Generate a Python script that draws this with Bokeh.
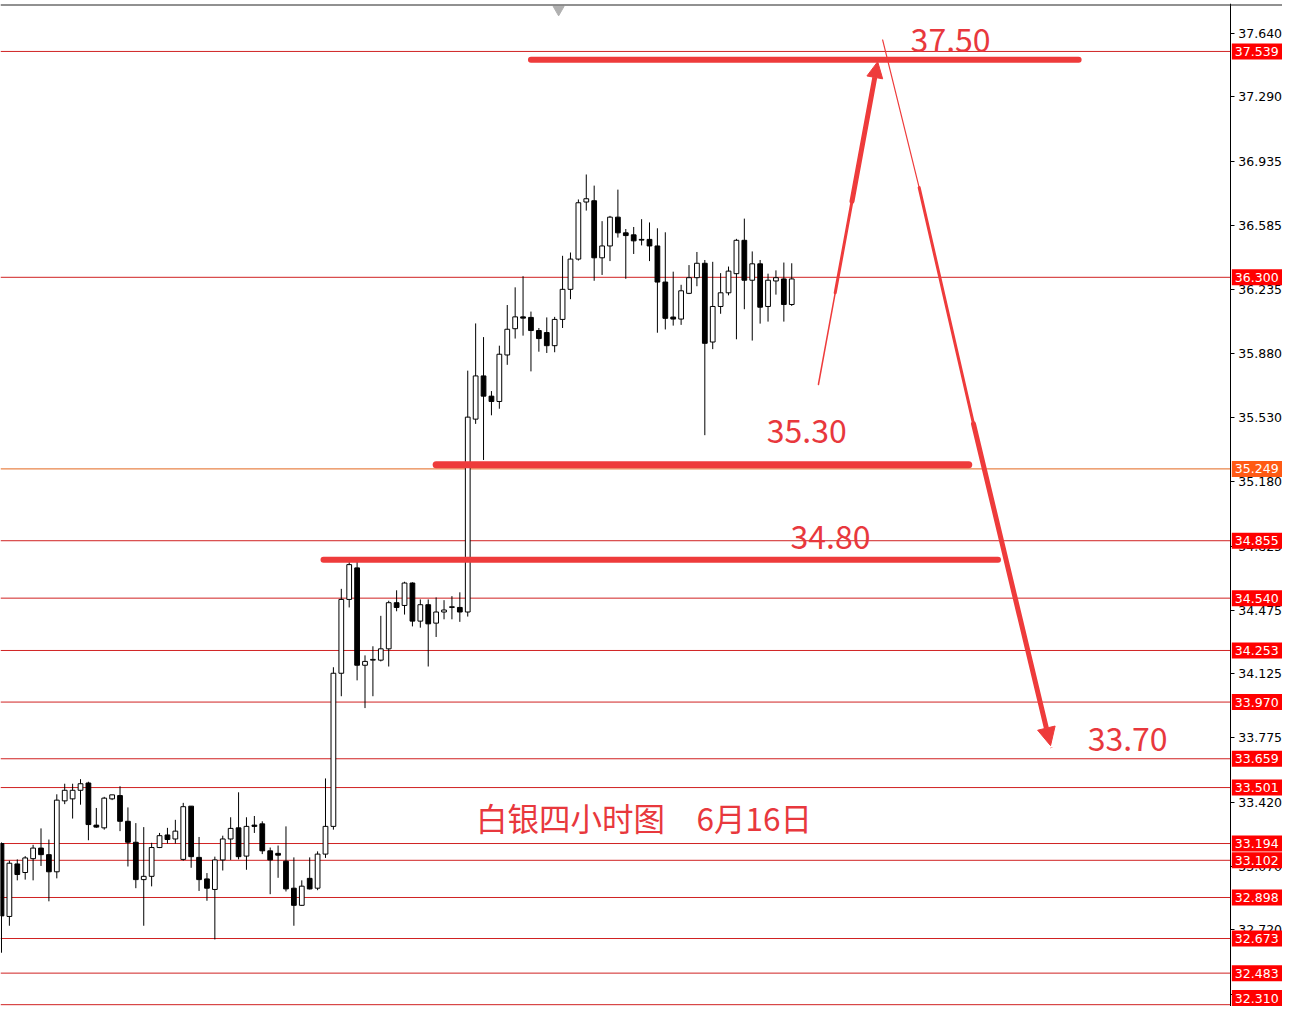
import numpy as np
from bokeh.plotting import figure
from bokeh.models import (FixedTicker, Span, Arrow, NormalHead, LinearAxis,
                          NumeralTickFormatter)
from bokeh.core.properties import value
from bokeh.embed import file_html
from bokeh.resources import INLINE

# ---------------- data ----------------
opens = [33.194, 32.794, 33.082, 33.035, 33.111, 33.169, 33.133, 33.039, 33.428, 33.439,
         33.486, 33.526, 33.295, 33.280, 33.439, 33.457, 33.316, 33.201, 32.996, 33.014,
         33.172, 33.241, 33.219, 33.107, 33.399, 33.118, 33.000, 32.942, 33.104, 33.219,
         33.280, 33.125, 33.295, 33.302, 33.154, 33.140, 33.097, 32.949, 32.855, 33.003,
         32.949, 33.136, 33.288, 34.128, 34.533, 34.706, 34.172, 34.200, 34.200, 34.262,
         34.515, 34.500, 34.623, 34.414, 34.504, 34.403, 34.464, 34.489, 34.489, 34.464,
         35.522, 35.759, 35.648, 35.619, 35.874, 36.018, 36.083, 36.080, 36.008, 35.997,
         35.925, 36.069, 36.234, 36.400, 36.713, 36.720, 36.407, 36.472, 36.630, 36.544,
         36.533, 36.508, 36.508, 36.472, 36.274, 36.082, 36.071, 36.212, 36.298, 36.377,
         35.945, 36.140, 36.215, 36.320, 36.503, 36.284, 36.374, 36.140, 36.280, 36.291,
         36.151]
highs = [33.200, 33.100, 33.107, 33.125, 33.187, 33.277, 33.216, 33.464, 33.522, 33.522,
         33.547, 33.533, 33.389, 33.450, 33.461, 33.508, 33.392, 33.306, 33.284, 33.198,
         33.252, 33.280, 33.324, 33.417, 33.399, 33.230, 33.032, 33.122, 33.237, 33.338,
         33.475, 33.338, 33.345, 33.316, 33.172, 33.183, 33.288, 33.118, 32.992, 33.118,
         33.151, 33.551, 34.161, 34.591, 34.760, 34.740, 34.226, 34.276, 34.443, 34.526,
         34.583, 34.630, 34.627, 34.533, 34.533, 34.544, 34.529, 34.551, 34.572, 35.788,
         36.047, 35.972, 35.676, 35.925, 36.148, 36.245, 36.306, 36.112, 36.022, 36.080,
         36.083, 36.418, 36.436, 36.727, 36.864, 36.803, 36.608, 36.637, 36.781, 36.565,
         36.576, 36.619, 36.601, 36.569, 36.547, 36.331, 36.259, 36.367, 36.439, 36.395,
         36.385, 36.323, 36.359, 36.511, 36.622, 36.442, 36.395, 36.320, 36.338, 36.381,
         36.377]
lows = [32.595, 32.743, 32.992, 32.996, 32.992, 33.071, 32.877, 33.003, 33.410, 33.331,
        33.407, 33.212, 33.280, 33.270, 33.432, 33.262, 33.068, 32.949, 32.743, 32.959,
        33.169, 33.194, 33.194, 33.100, 33.061, 32.934, 32.880, 32.668, 33.046, 33.104,
        33.107, 33.050, 33.252, 33.136, 32.916, 33.006, 32.931, 32.743, 32.852, 32.942,
        32.938, 33.115, 33.270, 34.002, 34.489, 34.089, 33.937, 34.002, 34.193, 34.165,
        34.468, 34.450, 34.385, 34.378, 34.165, 34.327, 34.424, 34.424, 34.410, 34.439,
        35.496, 35.298, 35.543, 35.579, 35.820, 35.964, 35.980, 35.784, 35.892, 35.885,
        35.889, 36.022, 36.180, 36.392, 36.666, 36.281, 36.313, 36.389, 36.518, 36.292,
        36.428, 36.475, 36.389, 35.996, 36.014, 36.035, 36.039, 36.208, 36.251, 35.434,
        35.906, 36.100, 36.201, 35.960, 36.125, 35.953, 36.046, 36.057, 36.205, 36.057,
        36.143]
closes = [32.797, 33.086, 33.024, 33.115, 33.169, 33.133, 33.039, 33.432, 33.486, 33.486,
          33.522, 33.298, 33.284, 33.443, 33.461, 33.316, 33.201, 32.996, 33.014, 33.172,
          33.237, 33.216, 33.262, 33.396, 33.122, 32.996, 32.949, 33.104, 33.219, 33.277,
          33.122, 33.288, 33.288, 33.154, 33.104, 33.130, 32.945, 32.855, 32.960, 32.945,
          33.136, 33.288, 34.128, 34.533, 34.724, 34.172, 34.193, 34.204, 34.262, 34.515,
          34.489, 34.623, 34.414, 34.504, 34.399, 34.464, 34.475, 34.493, 34.464, 35.533,
          35.759, 35.648, 35.619, 35.878, 36.015, 36.083, 36.076, 36.008, 35.964, 35.925,
          36.069, 36.234, 36.400, 36.709, 36.731, 36.407, 36.472, 36.630, 36.544, 36.529,
          36.500, 36.504, 36.472, 36.274, 36.075, 36.071, 36.226, 36.298, 36.377, 35.938,
          36.140, 36.215, 36.334, 36.503, 36.284, 36.374, 36.136, 36.284, 36.298, 36.151,
          36.291]

axis_ticks = [37.640, 37.290, 36.935, 36.585, 36.235, 35.880, 35.530, 35.180, 34.825,
              34.475, 34.125, 33.775, 33.420, 33.070, 32.720, 32.365]
level_values = [37.539, 36.300, 35.249, 34.855, 34.540, 34.253, 33.970, 33.659, 33.501,
                33.194, 33.102, 32.898, 32.673, 32.483, 32.310]
level_labels = ["37.539", "36.300", "35.249", "34.855", "34.540", "34.253", "33.970", "33.659",
                "33.501", "33.194", "33.102", "32.898", "32.673", "32.483", "32.310"]
orange_level = 35.249

# hand-drawn marks (data units: candle index, price)
mark_lines_y = [37.494, 35.272, 34.751]
mark_lines_x0 = [67.0, 55.0, 40.75]
mark_lines_x1 = [136.3, 122.4, 126.1]
mark_lines_w = [6, 7, 6]

up_x = [103.375, 105.5, 107.625, 110.875]
up_y = [35.712, 36.215, 36.717, 37.483]
down_x = [111.5, 116.125, 123.0, 132.75]
down_y = [37.602, 36.792, 35.496, 33.731]

note_texts = ["37.50", "35.30", "34.80", "33.70"]
note_x = [120.1, 101.9, 104.9, 142.5]
note_y = [37.602, 35.459, 34.875, 33.769]
title_text = "白银四小时图\u30006月16日"
title_x, title_y = 81.3, 33.337

RED = "#EE3B3B"
TXT = "#E8383D"
LINE_RED = "#D02222"

W, H = 1282, 1006
TOP = 3
X0, X1 = -0.125, 162.1          # frame spans the whole width, axis inside it
X_AXIS = 155.5
Y0, Y1 = 32.300, 37.802
ppu_x = W / (X1 - X0)
ppu_y = (H - TOP) / (Y1 - Y0)

# ---------------- figure ----------------
p = figure(width=W, height=H, output_backend="svg", toolbar_location=None,
           x_range=(X0, X1), y_range=(Y0, Y1),
           x_axis_location=None, y_axis_location=None,
           min_border_left=0, min_border_top=TOP, min_border_bottom=0, min_border_right=0)
p.grid.visible = False
p.outline_line_color = None
p.background_fill_color = "white"
p.border_fill_color = "white"

ax = LinearAxis(fixed_location=X_AXIS)
ax.ticker = FixedTicker(ticks=axis_ticks)
ax.formatter = NumeralTickFormatter(format="0.000")
ax.major_tick_in = 0
ax.major_tick_out = 4
ax.minor_tick_line_color = None
ax.axis_line_color = "black"
ax.major_tick_line_color = "black"
ax.major_label_standoff = 4
ax.major_label_text_font = "DejaVu Sans"
ax.major_label_text_font_size = "12.5px"
ax.major_label_text_color = "black"
p.add_layout(ax, "right")

# top border line
p.add_layout(Span(location=Y1 - 1.5 / ppu_y, dimension="width", line_color="#222222", line_width=1))

# horizontal levels (stop at the axis)
lvl_colors = ["#E4661E" if v == orange_level else LINE_RED for v in level_values]
p.segment(x0=[X0] * len(level_values), y0=level_values, x1=[X_AXIS] * len(level_values),
          y1=level_values, line_color=lvl_colors, line_width=1)

# candles
idx = np.arange(len(opens))
o = np.array(opens); h = np.array(highs); l = np.array(lows); c = np.array(closes)
p.segment(x0=idx, y0=l, x1=idx, y1=h, line_color="black", line_width=1)
inc = c >= o
dec = ~inc
p.vbar(x=idx[inc], top=c[inc], bottom=o[inc], width=0.6,
       fill_color="white", line_color="black", line_width=1)
p.vbar(x=idx[dec], top=o[dec], bottom=c[dec], width=0.6,
       fill_color="black", line_color="black", line_width=1)

# hand drawn thick lines
p.segment(x0=mark_lines_x0, y0=mark_lines_y, x1=mark_lines_x1, y1=mark_lines_y,
          line_color=RED, line_width=mark_lines_w, line_cap="round")

# up arrow (tapering)
p.line(up_x[:2], up_y[:2], line_color=RED, line_width=1.5, line_cap="round")
p.line(up_x[1:3], up_y[1:3], line_color=RED, line_width=3, line_cap="round")
p.add_layout(Arrow(end=NormalHead(size=16, fill_color=RED, line_color=RED),
                   x_start=up_x[2], y_start=up_y[2], x_end=up_x[3], y_end=up_y[3],
                   line_color=RED, line_width=5, line_cap="round"))
# down arrow (tapering)
p.line(down_x[:2], down_y[:2], line_color=RED, line_width=1.2, line_cap="round")
p.line(down_x[1:3], down_y[1:3], line_color=RED, line_width=3, line_cap="round")
p.add_layout(Arrow(end=NormalHead(size=18, fill_color=RED, line_color=RED),
                   x_start=down_x[2], y_start=down_y[2], x_end=down_x[3], y_end=down_y[3],
                   line_color=RED, line_width=5, line_cap="round"))

# texts
p.text(x=note_x, y=note_y, text=note_texts, text_color=TXT,
       text_font=value("Noto Sans CJK SC"), text_font_size="32px",
       text_align="center", text_baseline="middle")
p.text(x=[title_x], y=[title_y], text=[title_text], text_color=TXT,
       text_font=value("Noto Sans CJK SC"), text_font_size="31.5px",
       text_align="center", text_baseline="middle")

# MT4 shift marker
p.scatter(x=[70.5], y=[Y1 - 6 / ppu_y], marker="inverted_triangle", size=11,
          fill_color="#B0B0B0", line_color="#B0B0B0")

# red price labels on the axis (drawn above the axis labels)
half_h = 8 / ppu_y
bx0 = X_AXIS + 1.5 / ppu_x
lab_y = [max(v, Y0 + half_h + 0.5 / ppu_y) for v in level_values]
lab_bg = ["#FF5A14" if v == orange_level else "#FF0000" for v in level_values]
p.quad(left=[bx0] * len(lab_y), right=[X1] * len(lab_y),
       bottom=[y - half_h for y in lab_y], top=[y + half_h for y in lab_y],
       fill_color=lab_bg, line_color=None, level="annotation")
p.text(x=[bx0 + 3 / ppu_x] * len(lab_y), y=lab_y, text=level_labels, text_color="white",
       text_font=value("DejaVu Sans"), text_font_size="12.5px",
       text_align="left", text_baseline="middle", level="annotation")

open("out.html", "w").write(file_html(p, INLINE))
